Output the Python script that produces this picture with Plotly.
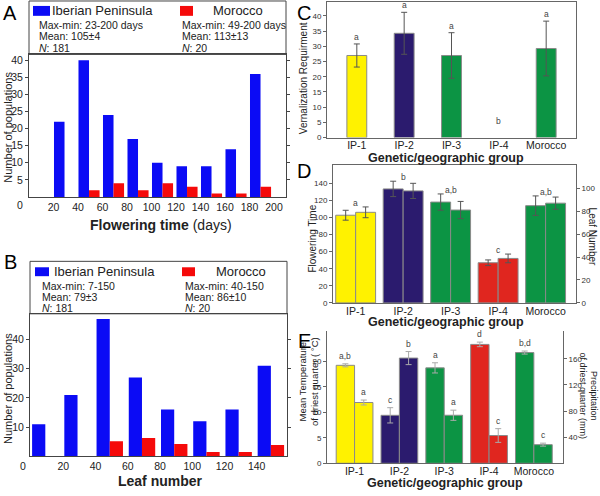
import plotly.graph_objects as go

W, H = 600, 496
FONT = "Arial, Liberation Sans, sans-serif"

# ---------------- data ----------------
# Panel A: flowering time histogram
ft_bins = [20, 40, 60, 80, 100, 120, 140, 160, 180]
ft_iberian = [22, 40, 24, 17, 10, 9, 9, 14, 36]
ft_morocco = [0, 2, 4, 2, 4, 3, 1, 1, 3]
ft_ticks = [20, 40, 60, 80, 100, 120, 140, 160, 180, 200]

# Panel B: leaf number histogram
ln_bins = [0, 20, 40, 60, 80, 100, 120, 140]
ln_iberian = [11, 21, 47, 27, 16, 12, 16, 31]
ln_morocco = [0, 0, 5.2, 6.3, 4.2, 1.5, 1.5, 3.9]
ln_ticks = [20, 40, 60, 80, 100, 120, 140]

# Panels C-E: genetic/geographic groups
groups = ["IP-1", "IP-2", "IP-3", "IP-4", "Morocco"]
group_colors = ["#fff200", "#2b1b6e", "#0c9444", "#e0261f", "#0c9444"]

vern_mean = [27, 34.3, 27, 0, 29.3]
vern_err = [3.8, 6.9, 7.5, 0, 9.0]
vern_letters = ["a", "a", "a", "b", "a"]

ft_mean = [102.6, 133.4, 118, 47, 113.8]
ft_err = [5.8, 9.0, 9.5, 3.3, 11.4]
leaf_mean = [79, 97.7, 81, 38.8, 87]
leaf_err = [4.7, 6.6, 7.5, 3.8, 5.3]
d_letters = ["a", "b", "a,b", "c", "a,b"]

temp_mean = [19.2, 9.4, 18.7, 23.3, 21.7]
temp_err = [0.3, 1.5, 1.0, 0.45, 0.3]
temp_letters = ["a,b", "c", "a", "d", "b,d"]
prec_mean = [93, 161, 73.5, 42.5, 28.5]
prec_err = [3.8, 10, 7.8, 10.5, 2.3]
prec_letters = ["a", "b", "a", "c", "c"]

# ---------------- helpers ----------------
def px(x):
    return x / W

def py(y):
    return 1 - y / H

BLUE = "#0b0bf5"
RED = "#f50a0a"
FRAME = "#444444"
AX = "#666666"
BAR_LINE = dict(color="#8a8a8a", width=1)
ERR = "#555555"

D_LEFT_MAX, D_RIGHT_MAX = 161, 120
E_LEFT_MAX, E_RIGHT_MAX = 26, 203

fig = go.Figure()

# Panel A
fig.add_trace(go.Bar(x=ft_bins, y=ft_iberian, offset=0.4, width=8.6,
                     marker=dict(color=BLUE, line=dict(width=0)),
                     xaxis="x", yaxis="y", showlegend=False))
fig.add_trace(go.Bar(x=ft_bins, y=ft_morocco, offset=9.0, width=8.6,
                     marker=dict(color=RED, line=dict(width=0)),
                     xaxis="x", yaxis="y", showlegend=False))
# Panel B
fig.add_trace(go.Bar(x=ln_bins, y=ln_iberian, offset=0.6, width=8.2,
                     marker=dict(color=BLUE, line=dict(width=0)),
                     xaxis="x2", yaxis="y2", showlegend=False))
fig.add_trace(go.Bar(x=ln_bins, y=ln_morocco, offset=8.8, width=8.2,
                     marker=dict(color=RED, line=dict(width=0)),
                     xaxis="x2", yaxis="y2", showlegend=False))

idx = list(range(len(groups)))

# Panel C (groups with zero requirement draw no bar)
c_idx = [i for i in idx if vern_mean[i] > 0]
fig.add_trace(go.Bar(x=c_idx, y=[vern_mean[i] for i in c_idx], width=0.42,
                     marker=dict(color=[group_colors[i] for i in c_idx], line=BAR_LINE),
                     error_y=dict(type="data", array=[vern_err[i] for i in c_idx],
                                  color=ERR, thickness=1, width=3),
                     xaxis="x3", yaxis="y3", showlegend=False))
# Panel D
fig.add_trace(go.Bar(x=idx, y=ft_mean, offset=-0.42, width=0.42,
                     marker=dict(color=group_colors, line=BAR_LINE),
                     error_y=dict(type="data", array=ft_err, color=ERR, thickness=1, width=3),
                     xaxis="x4", yaxis="y4", showlegend=False))
fig.add_trace(go.Bar(x=idx, y=leaf_mean, offset=0.0, width=0.42,
                     marker=dict(color=group_colors, line=BAR_LINE),
                     error_y=dict(type="data", array=leaf_err, color=ERR, thickness=1, width=3),
                     xaxis="x4", yaxis="y5", showlegend=False))
# Panel E
fig.add_trace(go.Bar(x=idx, y=temp_mean, offset=-0.41, width=0.41,
                     marker=dict(color=group_colors, line=BAR_LINE),
                     error_y=dict(type="data", array=temp_err, color="#aaaaaa", thickness=1, width=3),
                     xaxis="x5", yaxis="y6", showlegend=False))
fig.add_trace(go.Bar(x=idx, y=prec_mean, offset=0.0, width=0.41,
                     marker=dict(color=group_colors, line=BAR_LINE),
                     error_y=dict(type="data", array=prec_err, color="#aaaaaa", thickness=1, width=3),
                     xaxis="x5", yaxis="y7", showlegend=False))

tickA = dict(family=FONT, size=10.5, color="#222")
tickS = dict(family=FONT, size=8, color="#333")
tickX = dict(family=FONT, size=10.5, color="#222")

common_hist_x = dict(showline=True, linecolor=FRAME, linewidth=1, mirror=True,
                     ticks="", ticklen=0, showgrid=False, zeroline=False, tickfont=tickA)
common_hist_y = dict(showline=True, linecolor=FRAME, linewidth=1, mirror="ticks",
                     ticks="outside", ticklen=3, tickcolor=FRAME, showgrid=False,
                     zeroline=False, tickfont=tickA)
cat_x = dict(tickvals=idx, ticktext=groups, showline=True, linecolor=AX,
             ticks="", ticklen=0, ticklabelstandoff=-2, showgrid=False, zeroline=False,
             tickfont=tickX)
small_y = dict(showline=True, linecolor=AX, ticks="outside", ticklen=3, tickcolor=AX,
               showgrid=False, zeroline=False, tickfont=tickS)

layout = dict(
    width=W, height=H, margin=dict(l=0, r=0, t=0, b=0, pad=0),
    paper_bgcolor="white", plot_bgcolor="rgba(0,0,0,0)",
    barmode="overlay", font=dict(family=FONT, color="#222"),
    showlegend=False,
    xaxis=dict(domain=[px(29), px(286)], range=[0, 209.8], anchor="y",
               tickvals=ft_ticks, **common_hist_x),
    yaxis=dict(domain=[py(199), py(55)], range=[0, 41.7], anchor="x",
               tickvals=[5, 10, 15, 20, 25, 30, 35, 40], **common_hist_y),
    xaxis2=dict(domain=[px(30), px(287)], range=[-0.7, 158.8], anchor="y2",
                tickvals=ln_ticks, **common_hist_x),
    yaxis2=dict(domain=[py(461), py(317)], range=[0, 48.8], anchor="x2",
                tickvals=[10, 20, 30, 40], **common_hist_y),
    xaxis3=dict(domain=[px(327), px(576)], range=[-0.63, 4.63], anchor="y3",
                mirror=True, **cat_x),
    yaxis3=dict(domain=[py(139), py(2)], range=[0, 44.6], anchor="x3",
                tickvals=[0, 5, 10, 15, 20, 25, 30, 35, 40], mirror=True, **small_y),
    xaxis4=dict(domain=[px(333), px(576)], range=[-0.477, 4.64], anchor="y4",
                mirror=True, **cat_x),
    yaxis4=dict(domain=[py(306), py(167)], range=[0, D_LEFT_MAX], anchor="x4",
                tickvals=[0, 20, 40, 60, 80, 100, 120, 140], **small_y),
    yaxis5=dict(range=[0, D_RIGHT_MAX], anchor="x4", overlaying="y4", side="right",
                tickvals=[0, 20, 40, 60, 80, 100], **small_y),
    xaxis5=dict(domain=[px(327), px(563)], range=[-0.615, 4.65], anchor="y6", **cat_x),
    yaxis6=dict(domain=[py(468), py(334)], range=[0, E_LEFT_MAX], anchor="x5",
                tickvals=[0, 5, 10, 15, 20], **small_y),
    yaxis7=dict(range=[0, E_RIGHT_MAX], anchor="x5", overlaying="y6", side="right",
                tickvals=[40, 80, 120, 160], **small_y),
)

shapes = []
annotations = []

def ann(x, y, text, size, **kw):
    d = dict(x=px(x), y=py(y), xref="paper", yref="paper", text=text, showarrow=False,
             font=dict(family=FONT, size=size, color=kw.pop("color", "#222")),
             xanchor=kw.pop("xanchor", "center"), yanchor=kw.pop("yanchor", "middle"))
    d.update(kw)
    annotations.append(d)

def rect(x0, y0, x1, y1, fill=None, line=None):
    shapes.append(dict(type="rect", xref="paper", yref="paper",
                       x0=px(x0), x1=px(x1), y0=py(y1), y1=py(y0),
                       fillcolor=fill if fill else "rgba(0,0,0,0)",
                       line=line if line else dict(width=0)))

def legend_box(x0, y0, x1, y1, sw1, sw2, t1x, t2x, ty, infox1, infox2, infoys, info1, info2):
    rect(x0, y0, x1, y1, line=dict(color=FRAME, width=1))
    rect(sw1[0], sw1[1], sw1[2], sw1[3], fill=BLUE)
    rect(sw2[0], sw2[1], sw2[2], sw2[3], fill=RED)
    ann(t1x, ty, "Iberian Peninsula", 13, xanchor="left")
    ann(t2x, ty, "Morocco", 13, xanchor="left")
    for yy, a, b in zip(infoys, info1, info2):
        ann(infox1, yy, a, 10.5, xanchor="left")
        ann(infox2, yy, b, 10.5, xanchor="left")

legend_box(29, 1, 286, 55, (33, 6, 50, 16), (180, 6, 193, 16), 50, 211, 11,
           37, 180, [25, 36.5, 48],
           ["Max-min: 23-200 days", "Mean: 105±4", "<i>N</i>: 181"],
           ["Max-min: 49-200 days", "Mean: 113±13", "<i>N</i>: 20"])
legend_box(30, 264, 287, 317, (35, 270, 49, 279), (182, 270, 195, 279), 52, 214, 274.5,
           40, 183, [289, 300.5, 311.5],
           ["Max-min: 7-150", "Mean: 79±3", "<i>N</i>: 181"],
           ["Max-min: 40-150", "Mean: 86±10", "<i>N</i>: 20"])

# Corner zero labels
ann(20, 207, "0", 10.5)
ann(22.7, 471, "0", 10.5)

# Panel letters
for (lx, ly, t) in [(10, 13, "A"), (10.5, 265, "B"), (304, 13, "C"), (304, 173, "D"), (304, 344, "E")]:
    ann(lx, ly, t, 20, color="#000")

# Axis titles
ann(160.5, 227, "<b>Flowering time</b> (days)", 14)
ann(8, 129, "Number of populations", 11, textangle=-90)
ann(160, 486, "<b>Leaf number</b>", 14)
ann(8, 393, "Number of populations", 11, textangle=-90)
ann(446, 159.5, "<b>Genetic/geographic group</b>", 12.5)
ann(303, 79, "Vernalization Requirment", 10, textangle=-90)
ann(446, 325.5, "<b>Genetic/geographic group</b>", 12.5)
ann(313, 241, "Flowering Time", 10, textangle=-90)
ann(592, 239, "Leaf Number", 10, textangle=90)
ann(445, 487.5, "<b>Genetic/geographic group</b>", 12.5)
ann(308, 386, "Mean Temperature<br>of driest quarter ( °C)", 9.5, textangle=-90)
ann(588.5, 400, "Precipitation<br>of driest quarter (mm)", 9, textangle=90)

# Significance letters
LET = dict(family=FONT, size=8.5, color="#444")
for i, (m, e, t) in enumerate(zip(vern_mean, vern_err, vern_letters)):
    top = m + e
    annotations.append(dict(x=i, y=max(top, 3), xref="x3", yref="y3", text=t, showarrow=False,
                            font=LET, yanchor="bottom", yshift=0))
for i in idx:
    top_l = ft_mean[i] + ft_err[i]
    top_r = (leaf_mean[i] + leaf_err[i]) * D_LEFT_MAX / D_RIGHT_MAX
    annotations.append(dict(x=i, y=max(top_l, top_r), xref="x4", yref="y4", text=d_letters[i],
                            showarrow=False, font=LET, yanchor="middle", yshift=4))
for i in idx:
    annotations.append(dict(x=i - 0.205, y=temp_mean[i] + temp_err[i], xref="x5", yref="y6",
                            text=temp_letters[i], showarrow=False, font=LET,
                            yanchor="bottom", yshift=1))
    annotations.append(dict(x=i + 0.205, y=prec_mean[i] + prec_err[i], xref="x5", yref="y7",
                            text=prec_letters[i], showarrow=False, font=LET,
                            yanchor="bottom", yshift=1))

layout["shapes"] = shapes
layout["annotations"] = annotations
fig.update_layout(**layout)

fig.write_html("out.html", config={"displayModeBar": False},
               post_script="document.body.style.margin='0';document.body.style.overflow='hidden';")
